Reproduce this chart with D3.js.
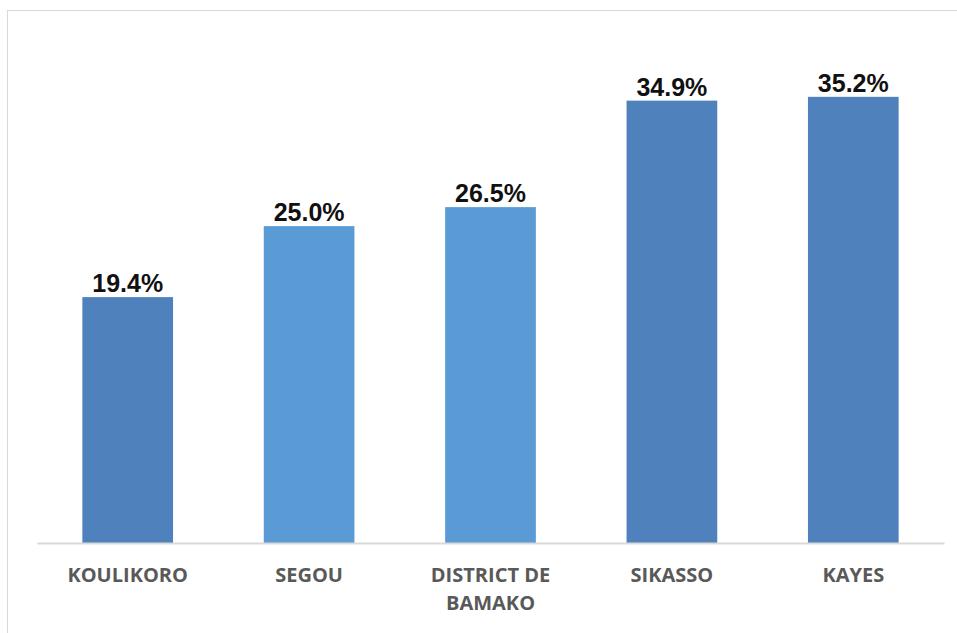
<!DOCTYPE html>
<html>
<head>
<meta charset="utf-8">
<script src="https://cdn.jsdelivr.net/npm/d3@7"></script>
<style>
  body { margin: 0; background: #fff; }
</style>
</head>
<body>
<div id="chart"></div>
<script>
// Input data
const regions = ["KOULIKORO", "SEGOU", "DISTRICT DE BAMAKO", "SIKASSO", "KAYES"];
const values = [19.4, 25.0, 26.5, 34.9, 35.2];
const barColors = ["#4f81bd", "#5b9bd5", "#5b9bd5", "#4f81bd", "#4f81bd"];
// label lines for the x axis
const tickLines = [["KOULIKORO"], ["SEGOU"], ["DISTRICT DE", "BAMAKO"], ["SIKASSO"], ["KAYES"]];

const width = 957, height = 633;
const margin = { left: 37, right: 13, top: 36, bottom: 90 };

const svg = d3.select("#chart")
  .append("svg")
  .attr("width", width)
  .attr("height", height);

// chart frame
svg.append("rect")
  .attr("x", 7.5)
  .attr("y", 10.5)
  .attr("width", width)
  .attr("height", height)
  .attr("fill", "#fff")
  .attr("stroke", "#d9d9d9")
  .attr("stroke-width", 1);

const x = d3.scaleBand()
  .domain(regions)
  .range([margin.left, width - margin.right])
  .paddingInner(0.5)
  .paddingOuter(0.25);

const y = d3.scaleLinear()
  .domain([0, 40])
  .range([height - margin.bottom, margin.top]);

// bars
svg.append("g")
  .selectAll("rect")
  .data(regions)
  .enter()
  .append("rect")
  .attr("x", d => x(d))
  .attr("y", (d, i) => y(values[i]))
  .attr("width", x.bandwidth())
  .attr("height", (d, i) => y(0) - y(values[i]))
  .attr("fill", (d, i) => barColors[i]);

// baseline axis
const xAxis = d3.axisBottom(x).tickSize(0).tickFormat("");
const axisG = svg.append("g")
  .attr("transform", `translate(0, ${y(0)})`)
  .call(xAxis);
axisG.select(".domain").attr("stroke", "#d9d9d9").attr("stroke-width", 2);

// category labels
axisG.selectAll(".tick text")
  .each(function(d, i) {
    const el = d3.select(this);
    el.text("")
      .attr("y", 0)
      .attr("dy", null)
      .attr("fill", "#595959")
      .style("font-family", "'Open Sans', sans-serif")
      .style("font-weight", "bold")
      .style("font-size", "20px");
    tickLines[i].forEach((line, j) => {
      el.append("tspan")
        .attr("x", 0)
        .attr("y", 39 + j * 28)
        .text(line);
    });
  });

// value labels
svg.append("g")
  .selectAll("text")
  .data(regions)
  .enter()
  .append("text")
  .attr("x", d => x(d) + x.bandwidth() / 2)
  .attr("y", (d, i) => y(values[i]) - 5)
  .attr("text-anchor", "middle")
  .attr("fill", "#111")
  .style("font-family", "'Liberation Sans', Arial, sans-serif")
  .style("font-weight", "bold")
  .style("font-size", "25px")
  .text((d, i) => values[i].toFixed(1) + "%");
</script>
</body>
</html>
